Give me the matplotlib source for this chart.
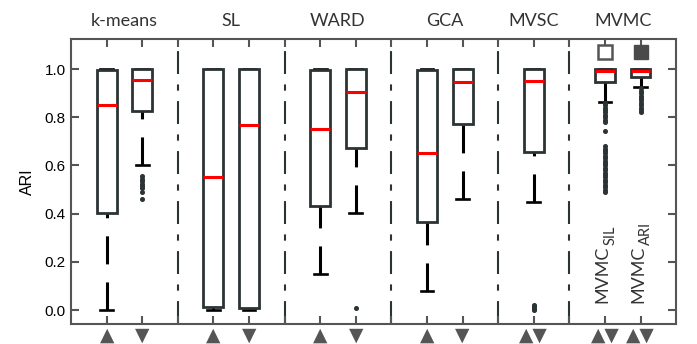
import numpy as np
import matplotlib.pyplot as plt

# box positions, one per method variant
positions = [1, 2, 4, 5, 7, 8, 10, 11, 13, 15, 16]
separators = [3, 6, 9, 12, 14]
group_names = ['k-means', 'SL', 'WARD', 'GCA', 'MVSC', 'MVMC']
group_centers = [1.5, 4.5, 7.5, 10.5, 13, 15.5]
marks = ['▲', '▼', '▲', '▼', '▲', '▼', '▲', '▼', '▲▼', '▲▼', '▲▼']

medians = [0.85, 0.954, 0.554, 0.768, 0.75, 0.903, 0.65, 0.947, 0.95, 0.99, 0.99]
q1s = [0.404, 0.826, 0.014, 0.01, 0.433, 0.671, 0.367, 0.771, 0.654, 0.945, 0.965]
q3s = [0.997, 1.0, 1.0, 1.0, 0.996, 1.0, 0.996, 1.0, 1.0, 1.0, 1.0]
whislos = [0.0, 0.601, 0.0, 0.0, 0.15, 0.403, 0.079, 0.462, 0.45, 0.865, 0.926]
whishis = [1.0, 1.0, 1.0, 1.0, 1.0, 1.0, 1.0, 1.0, 1.0, 1.0, 1.0]
fliers = [
    [],
    [0.555, 0.545, 0.535, 0.525, 0.515, 0.505, 0.49, 0.46],
    [],
    [],
    [],
    [0.01],
    [],
    [],
    [0.0, 0.005, 0.01, 0.015, 0.02],
    [0.86, 0.85, 0.84, 0.83, 0.82, 0.81, 0.80, 0.79, 0.78, 0.743,
     0.68, 0.67, 0.66, 0.65, 0.64, 0.63, 0.62, 0.61, 0.60, 0.59, 0.58,
     0.57, 0.56, 0.55, 0.54, 0.53, 0.52, 0.51, 0.50, 0.49],
    [0.92, 0.91, 0.90, 0.89, 0.88, 0.87, 0.86, 0.85, 0.84, 0.83, 0.82],
]
mvmc_main = 'MVMC'
mvmc_subs = ['SIL', 'ARI']
mvmc_pos = [15, 16]
marker_y = 1.07

stats = []
for i in range(len(positions)):
    stats.append(dict(med=medians[i], q1=q1s[i], q3=q3s[i],
                      whislo=whislos[i], whishi=whishis[i], fliers=fliers[i]))

edge = '#2c3335'
axc = '#555555'
txtc = '#333333'

fig = plt.figure(figsize=(6.97, 3.44), dpi=100)
ax = fig.add_axes([0.102, 0.058, 0.868, 0.829])

wlw = 2.2
bp = ax.bxp(stats, positions=positions, widths=0.56, capwidths=0.36,
            patch_artist=True, showfliers=True,
            boxprops=dict(facecolor='white', edgecolor=edge, linewidth=2.0),
            medianprops=dict(color='red', linewidth=2.2),
            whiskerprops=dict(color='black', linewidth=wlw,
                              linestyle=(0, (20.2 / wlw, 13 / wlw))),
            capprops=dict(color='black', linewidth=1.9),
            flierprops=dict(marker='o', markersize=2.6, markerfacecolor=edge,
                            markeredgecolor=edge, linestyle='none'))
# dash pattern starts at the whisker end, not at the box
for w in bp['whiskers']:
    xd, yd = w.get_data()
    w.set_data(xd[::-1], yd[::-1])
for b in bp['boxes']:
    b.set_zorder(3)
for m in bp['medians']:
    m.set_zorder(4)

for s in separators:
    ax.axvline(s, color=edge, linewidth=1.5, linestyle=(0, (11, 5, 3, 5)), zorder=1)

# MVMC square markers
ax.plot(mvmc_pos[0], marker_y, marker='s', markersize=9.5, markerfacecolor='white',
        markeredgecolor='#555555', markeredgewidth=1.8, linestyle='none')
ax.plot(mvmc_pos[1], marker_y, marker='s', markersize=10, markerfacecolor='#4a4a4a',
        markeredgecolor='#4a4a4a', linestyle='none')

ax.set_xlim(0, 17)
ax.set_ylim(-0.058, 1.125)

# rotated MVMC labels, subscript drawn as a second smaller text
fig.canvas.draw()
for p, sub in zip(mvmc_pos, mvmc_subs):
    t = ax.text(p - 0.06, 0.03, mvmc_main, rotation=90, ha='center', va='bottom',
                fontsize=13, family='Lato', color=txtc)
    bb = t.get_window_extent(renderer=fig.canvas.get_renderer())
    top = ax.transData.inverted().transform((0, bb.y1))[1]
    ax.text(p + 0.15, top + 0.003, sub, rotation=90, ha='center', va='bottom',
            fontsize=10.5, family='Lato', color=txtc)

ax.set_yticks([0.0, 0.2, 0.4, 0.6, 0.8, 1.0])
ax.set_yticklabels(['0.0', '0.2', '0.4', '0.6', '0.8', '1.0'],
                   family='Liberation Sans', fontsize=11)
ax.set_ylabel('ARI', family='Liberation Sans', fontsize=11.5, labelpad=7)

ticks = positions + separators
labels = marks + [''] * len(separators)
ax.set_xticks(ticks)
ax.set_xticklabels(labels, family='DejaVu Sans', fontsize=13.5, color=axc)

ax.tick_params(axis='both', direction='in', length=6, width=1.5, color=axc,
               top=True, right=True)
ax.tick_params(axis='x', pad=1)
ax.tick_params(axis='y', pad=4)
for sp in ax.spines.values():
    sp.set_color(axc)
    sp.set_linewidth(1.5)

for c, g in zip(group_centers, group_names):
    ax.text(c, 1.035, g, transform=ax.get_xaxis_transform(),
            ha='center', va='bottom', fontsize=13, family='Lato', color=txtc)

fig.savefig('out.png', dpi=100)
